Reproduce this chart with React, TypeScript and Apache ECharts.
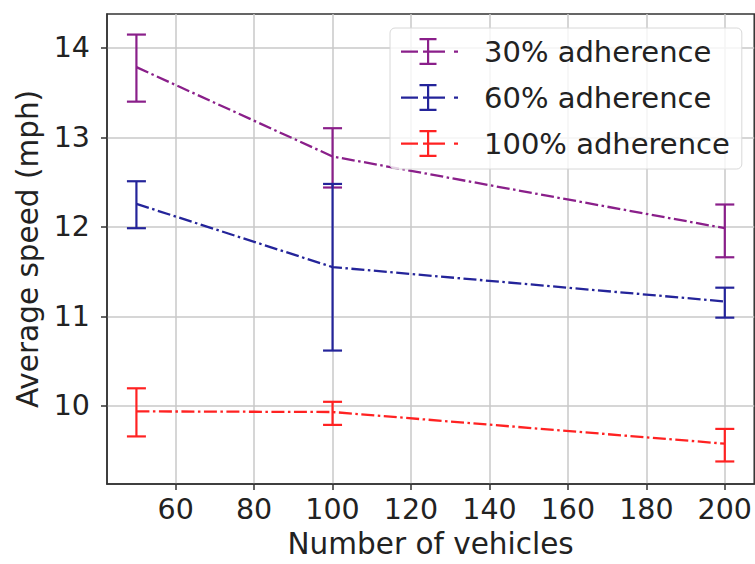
import React, { useEffect, useRef } from "react";
import * as echarts from "echarts";

const xValues = [50, 100, 200];
const xTicks = [60, 80, 100, 120, 140, 160, 180, 200];
const yTicks = [10, 11, 12, 13, 14];

const seriesNames = ["30% adherence", "60% adherence", "100% adherence"];
const seriesColors = ["#8a1f8a", "#24249a", "#ff2222"];

const mean30 = [13.786, 12.787, 11.985];
const low30 = [13.4, 12.44, 11.66];
const high30 = [14.15, 13.103, 12.25];

const mean60 = [12.257, 11.55, 11.166];
const low60 = [11.985, 10.617, 10.985];
const high60 = [12.51, 12.48, 11.32];

const mean100 = [9.937, 9.93, 9.576];
const low100 = [9.657, 9.786, 9.377];
const high100 = [10.195, 10.044, 9.741];

const means = [mean30, mean60, mean100];
const lows = [low30, low60, low100];
const highs = [high30, high60, high100];

const FONT = "DejaVu Sans";
const legendIcon =
  "path://M0 12.5h17v2.2h-17z M22 12.5h22v2.2h-22z M53 12.5h4v2.2h-4z M26 0h2.2v27h-2.2z M18.5 0h17v2.2h-17z M18.5 24.8h17v2.2h-17z";

export default function App() {
  const ref = useRef<HTMLDivElement>(null);
  useEffect(() => {
    if (!ref.current) return;
    const chart = echarts.init(ref.current, undefined, { renderer: "svg" });
    const series: any[] = [];
    seriesNames.forEach((name, i) => {
      series.push({
        name,
        type: "line",
        data: xValues.map((x, j) => [x, means[i][j]]),
        showSymbol: false,
        symbol: "none",
        color: seriesColors[i],
        itemStyle: { color: seriesColors[i] },
        lineStyle: { color: seriesColors[i], width: 2.3, type: [13, 3.5, 2.5, 3.5] },
        z: 3,
      });
      series.push({
        name,
        type: "custom",
        data: xValues.map((x, j) => [x, lows[i][j], highs[i][j]]),
        z: 4,
        renderItem: (params: any, api: any) => {
          const x = api.value(0);
          const lo = api.coord([x, api.value(1)]);
          const hi = api.coord([x, api.value(2)]);
          const hw = 9.5;
          const style = { stroke: seriesColors[i], lineWidth: 2.2 };
          return {
            type: "group",
            children: [
              { type: "line", shape: { x1: lo[0], y1: lo[1], x2: hi[0], y2: hi[1] }, style },
              { type: "line", shape: { x1: lo[0] - hw, y1: lo[1], x2: lo[0] + hw, y2: lo[1] }, style },
              { type: "line", shape: { x1: hi[0] - hw, y1: hi[1], x2: hi[0] + hw, y2: hi[1] }, style },
            ],
          };
        },
      });
    });

    chart.setOption({
      animation: false,
      grid: {
        left: 107,
        top: 14,
        right: -2,
        bottom: 74,
        show: true,
        borderColor: "#333",
        borderWidth: 1.5,
        backgroundColor: "transparent",
      },
      legend: {
        data: seriesNames.map((n) => ({ name: n, icon: legendIcon })),
        orient: "vertical",
        left: 390,
        top: 28,
        itemWidth: 57,
        itemHeight: 27,
        itemGap: 17,
        padding: [9, 12, 11, 11],
        backgroundColor: "rgba(255,255,255,0.8)",
        borderColor: "#d8d8d8",
        borderWidth: 1,
        borderRadius: 5,
        textStyle: { fontFamily: FONT, fontSize: 29, color: "#222", padding: [0, 0, 0, 21] },
      },
      xAxis: {
        type: "value",
        min: 42.5,
        max: 207.5,
        name: "Number of vehicles",
        nameLocation: "middle",
        nameGap: 45,
        nameTextStyle: { fontFamily: FONT, fontSize: 29.5, color: "#222" },
        axisLine: { show: true, lineStyle: { color: "#333", width: 1.5 } },
        axisTick: { show: true, length: 6, lineStyle: { color: "#333", width: 1.5 }, customValues: xTicks },
        axisLabel: { fontFamily: FONT, fontSize: 28.5, color: "#222", margin: 11, customValues: xTicks },
        splitLine: { show: true, lineStyle: { color: "#c8c8c8", width: 1.5 } },
      },
      yAxis: {
        type: "value",
        min: 9.125,
        max: 14.38,
        name: "Average speed (mph)",
        nameLocation: "middle",
        nameGap: 63,
        nameTextStyle: { fontFamily: FONT, fontSize: 29.5, color: "#222" },
        axisLine: { show: true, lineStyle: { color: "#333", width: 1.5 } },
        axisTick: { show: true, length: 6, lineStyle: { color: "#333", width: 1.5 }, customValues: yTicks },
        axisLabel: { fontFamily: FONT, fontSize: 28.5, color: "#222", margin: 17, customValues: yTicks },
        splitLine: { show: true, lineStyle: { color: "#c8c8c8", width: 1.5 } },
      },
      series,
    });
    return () => chart.dispose();
  }, []);
  return (
    <div
      ref={ref}
      style={{ position: "fixed", left: 0, top: 0, width: 755, height: 564, background: "#fff" }}
    />
  );
}
